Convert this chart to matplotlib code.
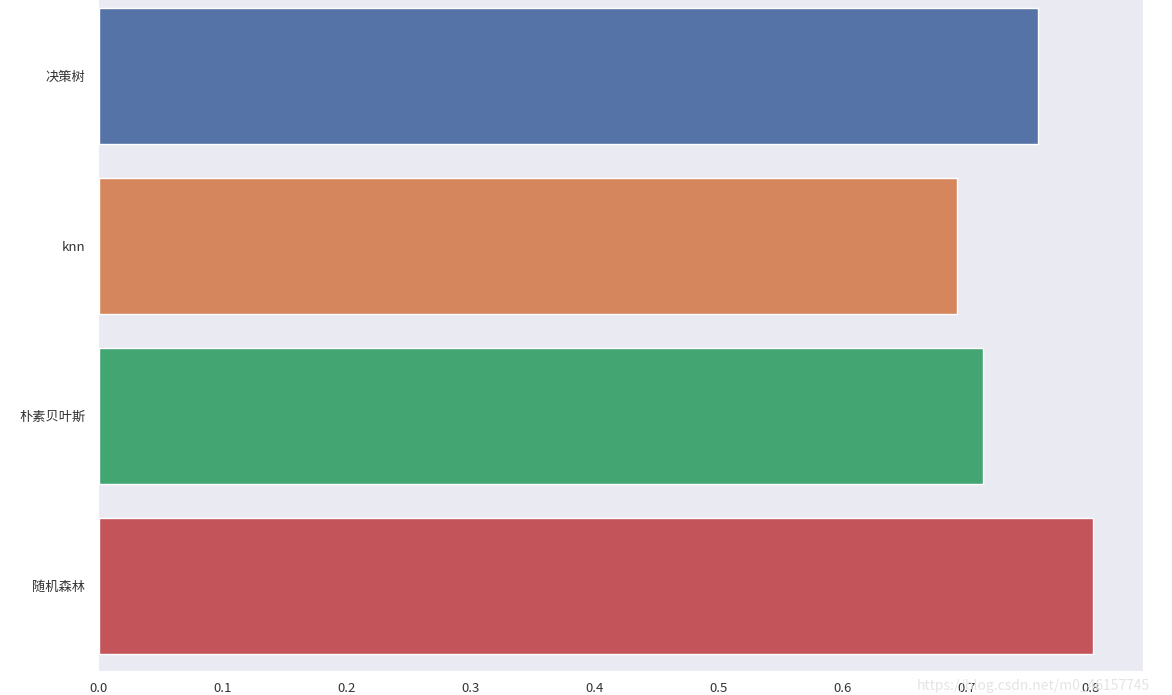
import matplotlib
matplotlib.use("Agg")
import matplotlib.pyplot as plt
import seaborn as sns

models = ["决策树", "knn", "朴素贝叶斯", "随机森林"]
scores = [0.757, 0.692, 0.713, 0.802]
xticks = [0.0, 0.1, 0.2, 0.3, 0.4, 0.5, 0.6, 0.7, 0.8]
bar_colors = ["#5673A8", "#D6865C", "#42A572", "#C2545A"]

sns.set_style("dark")
plt.rcParams['font.family'] = ['Noto Sans CJK SC', 'DejaVu Sans']

fig = plt.figure(figsize=(11.72, 6.95), dpi=100)
ax = fig.add_axes([99/1172, 24/695, 1044/1172, 680/695])
sns.barplot(x=scores, y=models, hue=models, palette=bar_colors, legend=False,
            saturation=1, ax=ax, edgecolor="white", linewidth=1)
ax.set_xlim(0, 1044/1240)
ax.set_ylim(3.5, -0.5)
ax.set_xticks(xticks)
ax.set_xticklabels([f"{v:.1f}" for v in xticks])
ax.tick_params(axis='x', labelsize=9.5, colors='#333333', pad=8, length=0)
ax.tick_params(axis='y', labelsize=9.5, colors='#333333', pad=10, length=0)
for s in ax.spines.values():
    s.set_visible(False)
ax.set_xlabel("")
ax.set_ylabel("")
fig.text(1150/1172, 2/695, "https://blog.csdn.net/m0_46157745", ha='right', va='bottom',
         fontsize=10, color='#e4e4e4', zorder=0)
fig.savefig("out.png", dpi=100)
